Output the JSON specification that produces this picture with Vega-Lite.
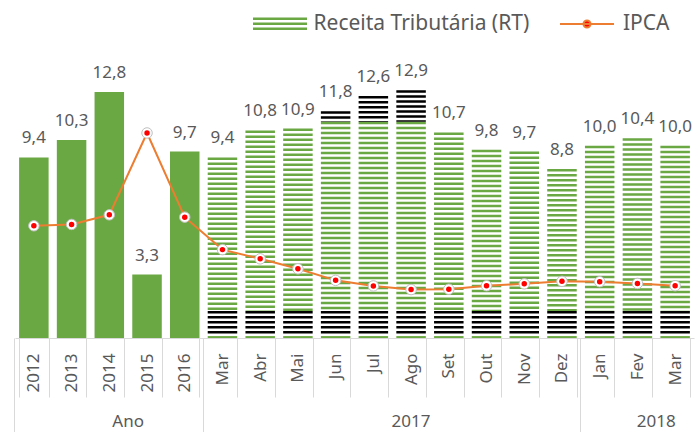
{
  "$schema": "https://vega.github.io/schema/vega-lite/v6.json",
  "width": 679,
  "height": 269,
  "autosize": "none",
  "padding": {"left": 15, "top": 69, "right": 2, "bottom": 94},
  "background": "white",
  "data": {
    "values": [
      {"cat": "2012", "grupo": "Ano", "RT": 9.4, "IPCA": 5.84},
      {"cat": "2013", "grupo": "Ano", "RT": 10.3, "IPCA": 5.91},
      {"cat": "2014", "grupo": "Ano", "RT": 12.8, "IPCA": 6.41},
      {"cat": "2015", "grupo": "Ano", "RT": 3.3, "IPCA": 10.67},
      {"cat": "2016", "grupo": "Ano", "RT": 9.7, "IPCA": 6.29},
      {"cat": "2017-Mar", "grupo": "2017", "RT": 9.4, "IPCA": 4.6},
      {"cat": "2017-Abr", "grupo": "2017", "RT": 10.8, "IPCA": 4.12},
      {"cat": "2017-Mai", "grupo": "2017", "RT": 10.9, "IPCA": 3.6},
      {"cat": "2017-Jun", "grupo": "2017", "RT": 11.8, "IPCA": 3.0},
      {"cat": "2017-Jul", "grupo": "2017", "RT": 12.6, "IPCA": 2.71},
      {"cat": "2017-Ago", "grupo": "2017", "RT": 12.9, "IPCA": 2.52},
      {"cat": "2017-Set", "grupo": "2017", "RT": 10.7, "IPCA": 2.54},
      {"cat": "2017-Out", "grupo": "2017", "RT": 9.8, "IPCA": 2.72},
      {"cat": "2017-Nov", "grupo": "2017", "RT": 9.7, "IPCA": 2.82},
      {"cat": "2017-Dez", "grupo": "2017", "RT": 8.8, "IPCA": 2.95},
      {"cat": "2018-Jan", "grupo": "2018", "RT": 10.0, "IPCA": 2.93},
      {"cat": "2018-Fev", "grupo": "2018", "RT": 10.4, "IPCA": 2.84},
      {"cat": "2018-Mar", "grupo": "2018", "RT": 10.0, "IPCA": 2.72}
    ]
  },
  "resolve": {"axis": {"x": "independent"}},
  "layer": [
    {
      "mark": {"type": "bar"},
      "encoding": {
        "x": {
          "field": "cat", "type": "nominal", "sort": null,
          "scale": {"paddingInner": 0.218, "paddingOuter": 0.109},
          "axis": {
            "orient": "bottom", "tickBand": "extent", "tickSize": 59, "tickColor": "#d9d9d9", "tickWidth": 1,
            "domainColor": "#d9d9d9", "domainWidth": 1, "labelAngle": 270, "labelPadding": -44,
            "labelExpr": "isString(datum.value) && length(datum.value) > 4 ? substring(datum.value, 5) : datum.label",
            "labelFont": "Noto Sans", "labelFontSize": 17, "labelColor": "#595959",
            "labelOverlap": false, "title": null, "grid": false
          }
        },
        "y": {
          "field": "RT", "type": "quantitative",
          "scale": {"domain": [0, 14], "nice": false},
          "axis": {
            "grid": true, "gridColor": "#d9d9d9", "gridWidth": 1,
            "values": [0, 2, 4, 6, 8, 10, 12, 14],
            "labels": false, "ticks": false, "domain": false, "title": null
          }
        },
        "color": {"value": "#6aa843"},
        "opacity": {"condition": {"test": "datum.grupo == 'Ano'", "value": 1}, "value": 0}
      }
    },
    {
      "transform": [{"filter": "datum.grupo != 'Ano' && datum.RT <= 11.25"}],
      "mark": {"type": "rule"},
      "encoding": {
        "x": {"field": "cat", "type": "nominal", "sort": null, "axis": null},
        "y": {"field": "RT", "type": "quantitative", "scale": {"domain": [0, 14], "nice": false}, "axis": null},
        "y2": {"datum": 1.41},
        "strokeWidth": {"value": 29.5},
        "strokeDash": {"value": [2.5, 2.5]},
        "stroke": {
          "datum": "Receita Tributária (RT)",
          "scale": {"domain": ["Receita Tributária (RT)"], "range": ["#6aa843"]},
          "legend": {
            "orient": "none", "legendX": 231.5, "legendY": -78.5, "title": null,
            "symbolType": "M0,-1L0,1", "symbolSize": 169, "symbolStrokeWidth": 54,
            "symbolDash": [2.5, 2.5], "symbolOpacity": 1,
            "labelFontSize": 21, "labelColor": "#595959", "labelFont": "Noto Sans",
            "labelOffset": 0, "labelLimit": 400, "padding": 0
          }
        }
      }
    },
    {
      "transform": [{"filter": "datum.grupo != 'Ano' && datum.RT > 11.25"}],
      "mark": {"type": "rule", "strokeWidth": 29.5, "strokeDash": [2.5, 2.5], "color": "#6aa843"},
      "encoding": {
        "x": {"field": "cat", "type": "nominal", "sort": null, "axis": null},
        "y": {"datum": 11.25, "type": "quantitative", "scale": {"domain": [0, 14], "nice": false}, "axis": null},
        "y2": {"datum": 1.41}
      }
    },
    {
      "transform": [{"filter": "datum.grupo != 'Ano' && datum.RT > 11.25"}],
      "mark": {"type": "rule", "strokeWidth": 29.5, "strokeDash": [2.5, 2.5], "color": "#000000"},
      "encoding": {
        "x": {"field": "cat", "type": "nominal", "sort": null, "axis": null},
        "y": {"field": "RT", "type": "quantitative", "scale": {"domain": [0, 14], "nice": false}, "axis": null},
        "y2": {"datum": 11.25}
      }
    },
    {
      "transform": [{"filter": "datum.grupo != 'Ano'"}],
      "mark": {"type": "rule", "strokeWidth": 29.5, "strokeDash": [2.5, 2.5], "color": "#000000"},
      "encoding": {
        "x": {"field": "cat", "type": "nominal", "sort": null, "axis": null},
        "y": {"datum": 1.41, "type": "quantitative", "scale": {"domain": [0, 14], "nice": false}, "axis": null},
        "y2": {"datum": 0.15}
      }
    },
    {
      "transform": [{"filter": "datum.grupo != 'Ano'"}],
      "mark": {"type": "rule", "strokeWidth": 29.5, "color": "#6aa843"},
      "encoding": {
        "x": {"field": "cat", "type": "nominal", "sort": null, "axis": null},
        "y": {"datum": 0.1, "type": "quantitative", "scale": {"domain": [0, 14], "nice": false}, "axis": null},
        "y2": {"datum": 0}
      }
    },
    {
      "mark": {"type": "line", "strokeWidth": 2},
      "encoding": {
        "x": {
          "field": "cat", "type": "nominal", "sort": null,
          "axis": {
            "orient": "bottom", "values": ["2012", "2017-Mar", "2018-Jan"], "bandPosition": -0.1394,
            "tickSize": 94, "tickColor": "#d9d9d9", "tickWidth": 1, "domain": false, "grid": false,
            "labelAngle": 0, "labelPadding": -19,
            "labelExpr": "datum.value == '2012' ? 'Ano' : (isString(datum.value) ? substring(datum.value, 0, 4) : '')",
            "labelOffset": {"condition": [{"test": "datum.value == '2012'", "value": 94.3}, {"test": "datum.value == '2017-Mar'", "value": 188.6}], "value": 56.6},
            "labelFont": "Noto Sans", "labelFontSize": 17, "labelColor": "#595959",
            "labelOverlap": false, "title": null
          }
        },
        "y": {"field": "IPCA", "type": "quantitative", "scale": {"domain": [0, 14], "nice": false}, "axis": null},
        "color": {
          "datum": "IPCA",
          "scale": {"domain": ["IPCA"], "range": ["#ed7d31"]},
          "legend": {
            "orient": "none", "legendX": 544, "legendY": -73, "title": null,
            "symbolType": "M-1,0L1,0M0.13,0A0.13,0.13,0,1,1,-0.13,0A0.13,0.13,0,1,1,0.13,0",
            "symbolSize": 2916, "symbolStrokeWidth": 2, "symbolFillColor": "#ff0000", "symbolOpacity": 1,
            "labelFontSize": 21, "labelColor": "#595959", "labelFont": "Noto Sans",
            "labelOffset": 8, "labelLimit": 400, "padding": 0
          }
        }
      }
    },
    {
      "mark": {"type": "point", "filled": true, "size": 110, "color": "#ffffff", "stroke": "#c0c0c0", "strokeWidth": 1, "opacity": 1},
      "encoding": {
        "x": {"field": "cat", "type": "nominal", "sort": null, "axis": null},
        "y": {"field": "IPCA", "type": "quantitative", "scale": {"domain": [0, 14], "nice": false}, "axis": null}
      }
    },
    {
      "mark": {"type": "point", "filled": true, "size": 30, "color": "#ff0000", "opacity": 1},
      "encoding": {
        "x": {"field": "cat", "type": "nominal", "sort": null, "axis": null},
        "y": {"field": "IPCA", "type": "quantitative", "scale": {"domain": [0, 14], "nice": false}, "axis": null}
      }
    },
    {
      "mark": {"type": "text", "baseline": "alphabetic", "dy": -14, "fontSize": 17, "font": "Noto Sans", "color": "#595959"},
      "encoding": {
        "x": {"field": "cat", "type": "nominal", "sort": null, "axis": null},
        "y": {"field": "RT", "type": "quantitative", "scale": {"domain": [0, 14], "nice": false}, "axis": null},
        "text": {"field": "RT", "type": "quantitative", "format": ".1f"}
      }
    }
  ],
  "config": {
    "view": {"stroke": null},
    "locale": {"number": {"decimal": ",", "thousands": ".", "grouping": [3], "currency": ["R$", ""]}}
  }
}
